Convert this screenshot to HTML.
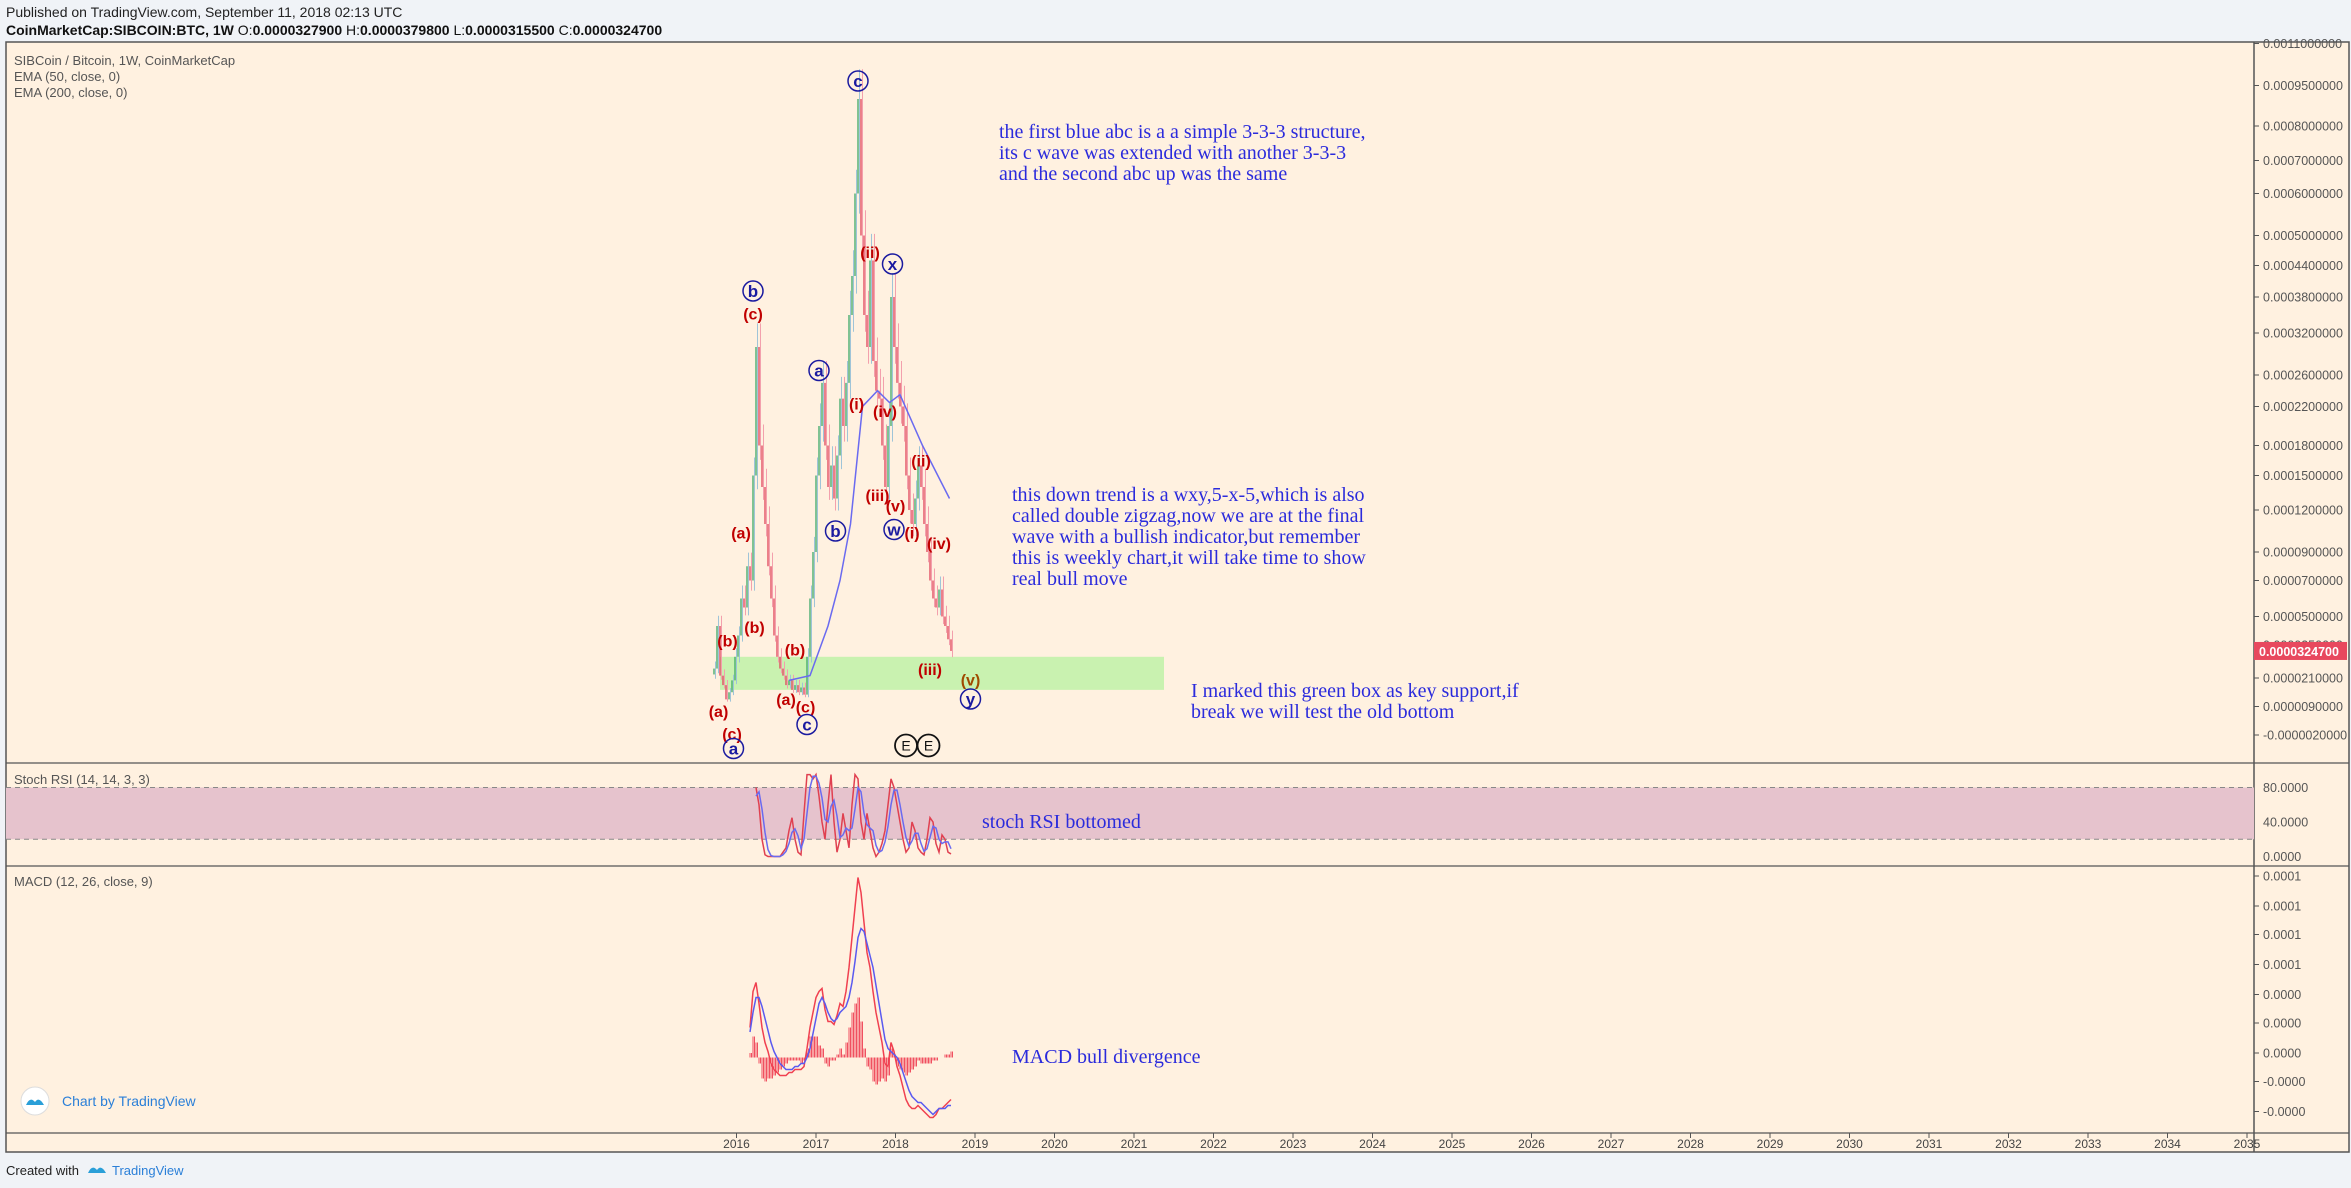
<!DOCTYPE html>
<html><head><meta charset="utf-8"><style>
html,body{margin:0;padding:0;background:#f0f3f7;}
svg{display:block;font-family:"Liberation Sans",sans-serif;}
</style></head><body>
<svg id="c" width="2351" height="1188" viewBox="0 0 2351 1188">
<rect x="0" y="0" width="2351" height="1188" fill="#f0f3f7"/>
<text x="6" y="17" font-size="14" fill="#222">Published on TradingView.com, September 11, 2018 02:13 UTC</text>
<text x="6" y="35" font-size="14" fill="#111" font-weight="bold">CoinMarketCap:SIBCOIN:BTC, 1W <tspan font-weight="normal">O:</tspan>0.0000327900 <tspan font-weight="normal">H:</tspan>0.0000379800 <tspan font-weight="normal">L:</tspan>0.0000315500 <tspan font-weight="normal">C:</tspan>0.0000324700</text>
<rect x="6" y="42" width="2343" height="1110" fill="#fff1e0" stroke="#555" stroke-width="1.5"/>
<line x1="2254" y1="42" x2="2254" y2="1152" stroke="#555" stroke-width="1.5"/>
<line x1="6" y1="763" x2="2349" y2="763" stroke="#555" stroke-width="1.2"/>
<line x1="6" y1="866" x2="2349" y2="866" stroke="#555" stroke-width="1.2"/>
<line x1="6" y1="1133" x2="2349" y2="1133" stroke="#555" stroke-width="1.2"/>
<text x="14" y="65" font-size="13" fill="#555">SIBCoin / Bitcoin, 1W, CoinMarketCap</text>
<text x="14" y="81" font-size="13" fill="#555">EMA (50, close, 0)</text>
<text x="14" y="97" font-size="13" fill="#555">EMA (200, close, 0)</text>
<text x="14" y="784" font-size="13" fill="#555">Stoch RSI (14, 14, 3, 3)</text>
<text x="14" y="886" font-size="13" fill="#555">MACD (12, 26, close, 9)</text>
<g id="g"></g>
<g font-family="Liberation Serif,serif" font-size="20" fill="#2b2bdc">
<text x="999" y="138"><tspan x="999">the first blue abc is a a simple 3-3-3 structure,</tspan><tspan x="999" dy="21">its c wave was extended with another 3-3-3</tspan><tspan x="999" dy="21">and the second abc up was the same</tspan></text>
<text x="1012" y="501"><tspan x="1012">this down trend is a wxy,5-x-5,which is also</tspan><tspan x="1012" dy="21">called double zigzag,now we are at the final</tspan><tspan x="1012" dy="21">wave with a bullish indicator,but remember</tspan><tspan x="1012" dy="21">this is weekly chart,it will take time to show</tspan><tspan x="1012" dy="21">real bull move</tspan></text>
<text x="1191" y="697"><tspan x="1191">I marked this green box as key support,if</tspan><tspan x="1191" dy="21">break we will test the old bottom</tspan></text>
<text x="982" y="828">stoch RSI bottomed</text>
<text x="1012" y="1063">MACD bull divergence</text>
</g>
<g>
<circle cx="35" cy="1101" r="14" fill="#fff" stroke="#ddd"/>
<path d="M26 1105 q4 -9 9 -3 q4 -6 9 3 z" fill="#2a9fd8"/>
<text x="62" y="1106" font-size="14" fill="#2a7fd8">Chart by TradingView</text>
</g>
<text x="6" y="1175" font-size="13" fill="#222">Created with</text>
<path d="M88 1173 q4 -9 9 -3 q4 -6 9 3 z" fill="#2a9fd8"/>
<text x="112" y="1175" font-size="13" fill="#2a7fd8">TradingView</text>
</svg>
<script>
const NS='http://www.w3.org/2000/svg';
const years=[2016,2017,2018,2019,2020,2021,2022,2023,2024,2025,2026,2027,2028,2029,2030,2031,2032,2033,2034,2035];
const priceTickVals=[-2,9,21,35,50,70,90,120,150,180,220,260,320,380,440,500,600,700,800,950,1100];
const priceTickLabels=['-0.0000020000','0.0000090000','0.0000210000','0.0000350000','0.0000500000','0.0000700000','0.0000900000','0.0001200000','0.0001500000','0.0001800000','0.0002200000','0.0002600000','0.0003200000','0.0003800000','0.0004400000','0.0005000000','0.0006000000','0.0007000000','0.0008000000','0.0009500000','0.0011000000'];
const priceTickY=[735,706.5,678,645,616.5,580.5,552,510,475.5,445.5,406.5,375,333,297,265.5,235.5,193.5,160.5,126,85.5,43.5];
const closes=[25,45,22,18,12,15,20,30,40,60,55,80,70,150,300,180,140,110,80,60,40,30,25,22,18,20,16,18,15,17,14,30,60,90,150,200,250,180,140,160,130,170,230,200,250,350,420,600,900,500,350,300,450,280,240,230,180,140,200,380,300,250,220,200,150,120,110,130,160,140,110,90,70,60,55,65,50,45,38,32.47];
const ema50=[[526,20],[540,22],[552,45],[560,70],[567,110],[575,220],[585,240],[593,225],[600,235],[615,180],[633,130]];
const stochK=[80,60,20,2,0,0,0,0,0,5,10,30,45,20,5,2,50,95,95,90,95,70,40,20,60,95,40,5,20,50,30,10,60,95,90,40,20,50,30,10,0,5,15,30,60,90,80,60,40,20,5,10,40,30,10,5,2,20,45,40,15,5,25,20,5,3];
const stochD=[70,75,55,28,8,1,0,0,0,2,6,15,28,32,24,9,20,50,80,93,93,85,68,43,40,58,65,47,22,25,33,30,33,55,80,75,50,37,33,30,13,5,7,17,35,60,77,77,60,40,22,12,18,27,27,15,6,9,22,35,33,20,15,17,17,9];
const macdLine=[1.0,2.2,2.5,1.8,1.0,0.5,0.2,-0.2,-0.4,-0.5,-0.6,-0.6,-0.6,-0.5,-0.5,-0.4,-0.4,-0.4,-0.3,0.3,1.0,1.5,2.0,2.2,2.3,1.6,1.2,1.2,1.1,1.4,1.8,1.7,2.2,3.0,4.0,5.0,6.0,5.5,4.5,3.5,3.0,2.2,1.5,1.0,0.5,-0.2,-0.3,0.5,0.2,-0.3,-0.6,-1.0,-1.4,-1.6,-1.7,-1.7,-1.6,-1.7,-1.8,-1.9,-2.0,-2.0,-1.9,-1.7,-1.7,-1.6,-1.5,-1.4];
const signalLine=[0.85,1.5,2.0,2.0,1.7,1.3,0.9,0.5,0.2,0,-0.2,-0.3,-0.4,-0.4,-0.4,-0.3,-0.3,-0.2,-0.2,0,0.3,0.8,1.3,1.8,2.0,1.8,1.5,1.3,1.2,1.3,1.5,1.6,1.7,2.0,2.5,3.2,4.0,4.3,4.2,3.8,3.4,3.0,2.4,1.8,1.2,0.6,0.3,0.2,0.1,0,-0.2,-0.5,-0.8,-1.1,-1.3,-1.4,-1.5,-1.5,-1.6,-1.7,-1.8,-1.9,-1.8,-1.7,-1.7,-1.7,-1.6,-1.6];
const macdTickLabels=['0.0001','0.0001','0.0001','0.0001','0.0000','0.0000','0.0000','-0.0000','-0.0000'];
const macdTickU=[6.05,5.05,4.1,3.1,2.1,1.15,0.15,-0.8,-1.8];
const stochTickVals=[80,40,0];
const stochTickLabels=['80.0000','40.0000','0.0000'];
const waveLabels=[
['c',572,54,1],['(ii)',580,168,0],['x',595,176,1],['b',502,194,1],['(c)',502,209,0],['a',546,247,1],['(i)',571,269,0],['(iv)',590,274,0],['(ii)',614,307,0],['(iii)',585,330,0],['(v)',597,337,0],['b',557,354,1],['w',596,353,1],['(i)',608,355,0],['(a)',494,355,0],['(iv)',626,362,0],['(b)',503,418,0],['(b)',485,427,0],['(b)',530,433,0],['(iii)',620,446,0],['(v)',647,453,2],['(a)',524,466,0],['(c)',537,471,0],['y',647,466,1],['(a)',479,474,0],['c',538,483,1],['(c)',488,489,0],['a',489,499,1]];

const g=document.getElementById('g');
function el(t,a,p){const e=document.createElementNS(NS,t);for(const k in a)e.setAttribute(k,a[k]);(p||g).appendChild(e);return e;}
function xOfDate(d){return 736.5+(d-2016)*79.5;}
function xOfIdx(i){return (476+2*i)*1.5;}
function yPrice(v){
  for(let k=0;k<priceTickVals.length-1;k++){
    if(v<=priceTickVals[k+1]||k===priceTickVals.length-2){
      const a=priceTickVals[k],b=priceTickVals[k+1];
      return priceTickY[k]+(v-a)/(b-a)*(priceTickY[k+1]-priceTickY[k]);
    }
  }
}
function yStoch(v){return (571-v*46/80)*1.5;}
function yMacd(u){return (705-u*20)*1.5;}

priceTickVals.forEach((v,k)=>{
  const y=yPrice(v);
  const t=el('line',{x1:2254,y1:y,x2:2259,y2:y,stroke:'#555'});
  
  
  const tx=el('text',{x:2263,y:y+4.5,'font-size':12.5,fill:'#555'});
  tx.textContent=priceTickLabels[k];
  
  
});
years.forEach(yr=>{
  const x=xOfDate(yr);
  const t=el('line',{x1:x,y1:1133,x2:x,y2:1138,stroke:'#555'});
  
  
  const tx=el('text',{x:x,y:1148,'font-size':12,fill:'#444','text-anchor':'middle'});
  tx.textContent=yr;
  
  
});
const gb=el('rect',{x:720,y:yPrice(30),width:444,height:yPrice(16)-yPrice(30),fill:'#c9f2b0'});


for(let i=0;i<closes.length;i++){
  const o=i?closes[i-1]:closes[i]*0.9,c=closes[i];
  const up=c>=o;
  const x=xOfIdx(i);
  const w=el('line',{x1:x+1.5,y1:yPrice(Math.max(o,c)*1.12),x2:x+1.5,y2:yPrice(Math.min(o,c)*0.92),stroke:up?'#9fc4d8':'#f3a0ad','stroke-width':1});
  
  
  const b=el('line',{x1:x,y1:yPrice(o),x2:x,y2:yPrice(c),stroke:up?'#3ca868':'#e0435a','stroke-width':1.3});
  
  
}
const ep=el('polyline',{points:ema50.map(p=>(p[0]*1.5)+','+yPrice(p[1])).join(' '),fill:'none',stroke:'#6a6af0','stroke-width':1.5});


const ly=yPrice(closes[closes.length-1]);
const tg=el('rect',{x:2254,y:ly-9,width:93,height:18,fill:'#e8485e'});


const tgt=el('text',{x:2259,y:ly+5,'font-size':12.5,fill:'#fff','font-weight':'bold'});
tgt.textContent='0.0000324700';


waveLabels.forEach(w=>{
  const x=w[1]*1.5,y=w[2]*1.5;
  if(w[3]===1){
    const c=el('circle',{cx:x,cy:y,r:10,fill:'none',stroke:'#1a1aa0','stroke-width':1.5});
    
    
  }
  const t=el('text',{x:x,y:y+6,'font-size':w[3]===1?17:16,'font-weight':'bold','text-anchor':'middle',fill:w[3]===1?'#1a1aa0':(w[3]===2?'#a04a00':'#c00000')});
  t.textContent=w[0];
  
  
});
[604,619].forEach(xd=>{
  const c=el('circle',{cx:xd*1.5,cy:497*1.5,r:11,fill:'none',stroke:'#111','stroke-width':1.8});
  
  
  const t=el('text',{x:xd*1.5,y:497*1.5+5,'font-size':14,'text-anchor':'middle',fill:'#111'});
  t.textContent='E';
  
  
});
const band=el('rect',{x:6,y:yStoch(80),width:2248,height:yStoch(20)-yStoch(80),fill:'#e6c3cd'});


[80,20].forEach(v=>{
  const l=el('line',{x1:6,y1:yStoch(v),x2:2254,y2:yStoch(v),stroke:'#888','stroke-dasharray':'5 4'});
  
  
});
stochTickVals.forEach((v,k)=>{
  const tx=el('text',{x:2263,y:yStoch(v)+4.5,'font-size':12.5,fill:'#555'});
  tx.textContent=stochTickLabels[k];
  
  
});
const sK=el('polyline',{points:stochK.map((v,k)=>xOfIdx(k+14)+','+yStoch(v)).join(' '),fill:'none',stroke:'#e04050','stroke-width':1.5});


const sD=el('polyline',{points:stochD.map((v,k)=>xOfIdx(k+14)+','+yStoch(v)).join(' '),fill:'none',stroke:'#6a6af0','stroke-width':1.5});


macdTickU.forEach((u,k)=>{
  const y=yMacd(u);
  const t=el('line',{x1:2254,y1:y,x2:2259,y2:y,stroke:'#555'});
  
  
  const tx=el('text',{x:2263,y:y+4.5,'font-size':12.5,fill:'#555'});
  tx.textContent=macdTickLabels[k];
  
  
});
macdLine.forEach((m,k)=>{
  const h=m-signalLine[k];
  const x=xOfIdx(k+12);
  for(let s=0;s<2;s++){
    const b=el('line',{x1:x+s*1.5,y1:yMacd(0),x2:x+s*1.5,y2:yMacd(h),stroke:'#f05060','stroke-width':1});
    
    
  }
});
const mL=el('polyline',{points:macdLine.map((v,k)=>xOfIdx(k+12)+','+yMacd(v)).join(' '),fill:'none',stroke:'#f04050','stroke-width':1.5});


const sL=el('polyline',{points:signalLine.map((v,k)=>xOfIdx(k+12)+','+yMacd(v)).join(' '),fill:'none',stroke:'#5a5af0','stroke-width':1.5});


</script>
</body></html>
